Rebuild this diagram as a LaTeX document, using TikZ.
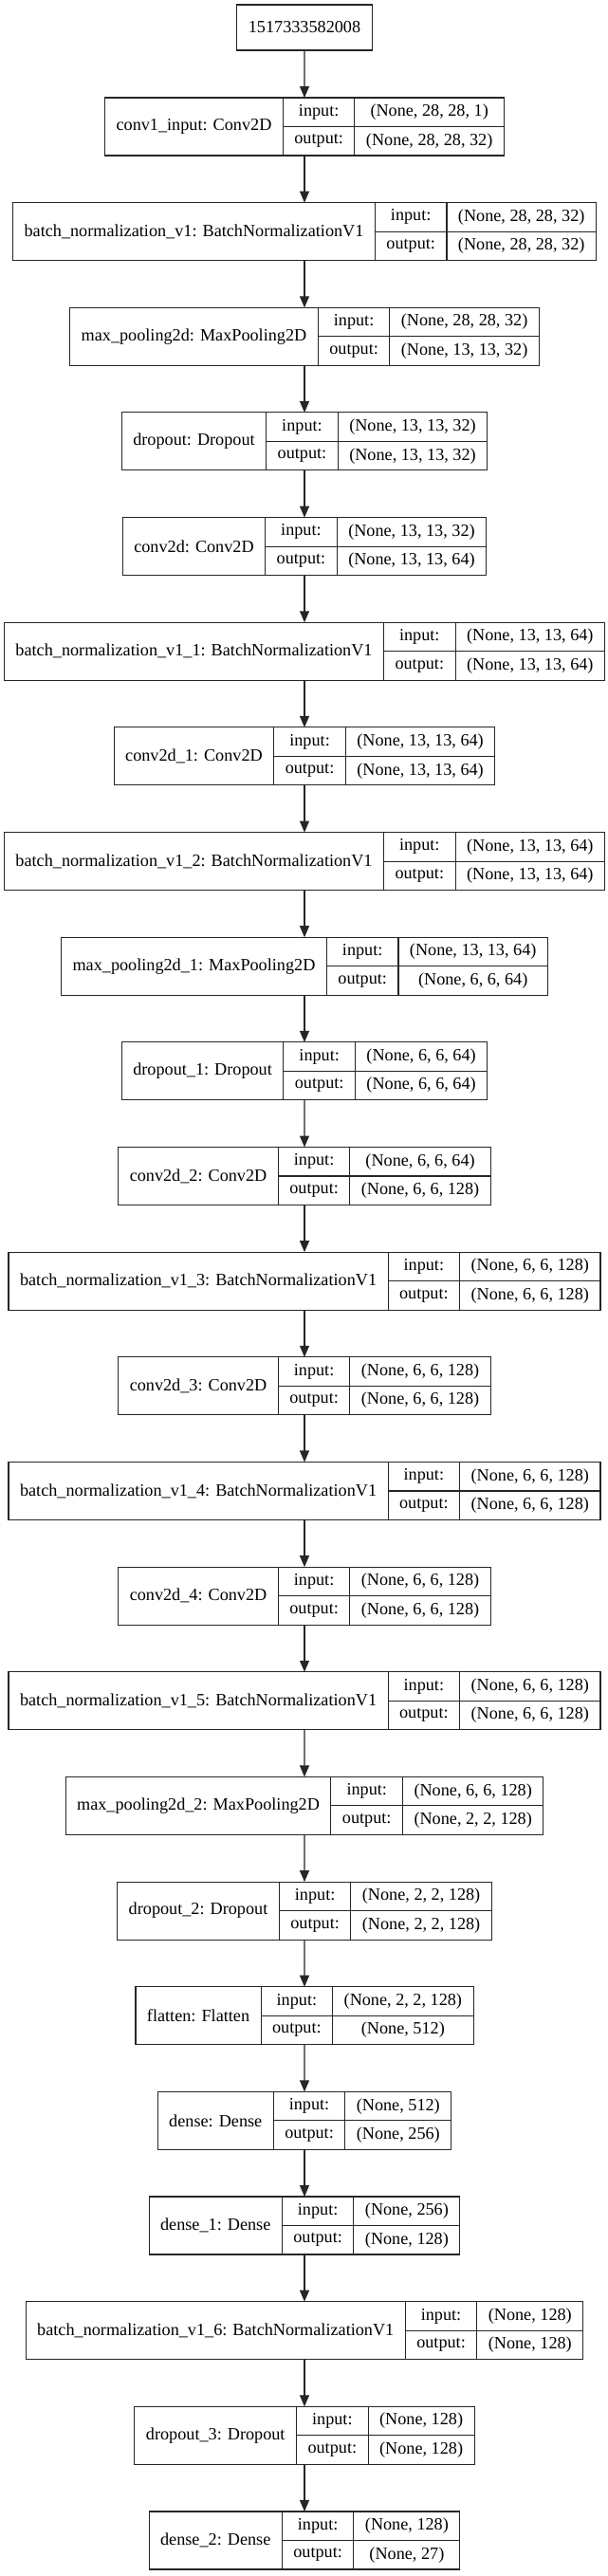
\documentclass[tikz,border=0pt]{standalone}
\usepackage{fontspec}
\setmainfont{Liberation Serif}
\usepackage{tikz}
\usetikzlibrary{positioning}
\usetikzlibrary{arrows.meta}
\usetikzlibrary{fit,calc}

\newlength\namewd
\newlength\labwd
\newlength\valwd
\newlength\tmpwd
\newlength\totwd
\newlength\rowht
\setlength\rowht{22.875pt}
\def\xmid{240.75pt}
\newcommand\cellfont{\fontsize{13.65pt}{16pt}\selectfont}
% text width measured outside the picture's null font
\newcommand\textwd[2]{\settowidth#1{\pgfinterruptpicture\cellfont #2\endpgfinterruptpicture}}

% one keras record: name | input:/output: | shapes, centred on \xmid
\newcommand\layerbox[5]{%
  \textwd\namewd{#2}%
  \textwd\labwd{output:}%
  \textwd\valwd{#3}%
  \textwd\tmpwd{#4}%
  \ifdim\tmpwd>\valwd \setlength\valwd{\tmpwd}\fi
  \addtolength\namewd{18pt}%
  \addtolength\labwd{18pt}%
  \addtolength\valwd{18pt}%
  \setlength\totwd{\dimexpr\namewd+\labwd+\valwd\relax}%
  \node[cell, minimum width=\namewd, minimum height=2*\rowht, anchor=north west]
    (#1-n) at ({\xmid-0.5*\totwd}, {-#5*1pt}) {#2};
  \node[cell, minimum width=\labwd, anchor=north west] (#1-i) at (#1-n.north east) {input:};
  \node[cell, minimum width=\labwd, anchor=north west] (#1-o) at (#1-i.south west) {output:};
  \node[cell, minimum width=\valwd, anchor=north west] (#1-vi) at (#1-i.north east) {#3};
  \node[cell, minimum width=\valwd, anchor=north west] (#1-vo) at (#1-vi.south west) {#4};
  \node[fit=(#1-n)(#1-vo), inner sep=0pt, outer sep=0pt] (#1) {};
}

\begin{document}
\begin{tikzpicture}
	\useasboundingbox (0,0) rectangle (480pt,-2037pt);

	\begin{scope}[every node/.style={outer sep=0pt},
	              cell/.style={draw=black!85, line width=0.8pt, inner sep=0pt,
	                           minimum height=\rowht, font=\cellfont, text=black}]
	    \node[cell, minimum height=36pt, inner xsep=9pt, anchor=north] (L0) at (\xmid,-3.75pt) {1517333582008};
	    \foreach \lab/\ishape/\oshape [count=\i] in {
	        {conv1\_input: Conv2D}/{(None, 28, 28, 1)}/{(None, 28, 28, 32)},
	        {batch\_normalization\_v1: BatchNormalizationV1}/{(None, 28, 28, 32)}/{(None, 28, 28, 32)},
	        {max\_pooling2d: MaxPooling2D}/{(None, 28, 28, 32)}/{(None, 13, 13, 32)},
	        {dropout: Dropout}/{(None, 13, 13, 32)}/{(None, 13, 13, 32)},
	        {conv2d: Conv2D}/{(None, 13, 13, 32)}/{(None, 13, 13, 64)},
	        {batch\_normalization\_v1\_1: BatchNormalizationV1}/{(None, 13, 13, 64)}/{(None, 13, 13, 64)},
	        {conv2d\_1: Conv2D}/{(None, 13, 13, 64)}/{(None, 13, 13, 64)},
	        {batch\_normalization\_v1\_2: BatchNormalizationV1}/{(None, 13, 13, 64)}/{(None, 13, 13, 64)},
	        {max\_pooling2d\_1: MaxPooling2D}/{(None, 13, 13, 64)}/{(None, 6, 6, 64)},
	        {dropout\_1: Dropout}/{(None, 6, 6, 64)}/{(None, 6, 6, 64)},
	        {conv2d\_2: Conv2D}/{(None, 6, 6, 64)}/{(None, 6, 6, 128)},
	        {batch\_normalization\_v1\_3: BatchNormalizationV1}/{(None, 6, 6, 128)}/{(None, 6, 6, 128)},
	        {conv2d\_3: Conv2D}/{(None, 6, 6, 128)}/{(None, 6, 6, 128)},
	        {batch\_normalization\_v1\_4: BatchNormalizationV1}/{(None, 6, 6, 128)}/{(None, 6, 6, 128)},
	        {conv2d\_4: Conv2D}/{(None, 6, 6, 128)}/{(None, 6, 6, 128)},
	        {batch\_normalization\_v1\_5: BatchNormalizationV1}/{(None, 6, 6, 128)}/{(None, 6, 6, 128)},
	        {max\_pooling2d\_2: MaxPooling2D}/{(None, 6, 6, 128)}/{(None, 2, 2, 128)},
	        {dropout\_2: Dropout}/{(None, 2, 2, 128)}/{(None, 2, 2, 128)},
	        {flatten: Flatten}/{(None, 2, 2, 128)}/{(None, 512)},
	        {dense: Dense}/{(None, 512)}/{(None, 256)},
	        {dense\_1: Dense}/{(None, 256)}/{(None, 128)},
	        {batch\_normalization\_v1\_6: BatchNormalizationV1}/{(None, 128)}/{(None, 128)},
	        {dropout\_3: Dropout}/{(None, 128)}/{(None, 128)},
	        {dense\_2: Dense}/{(None, 128)}/{(None, 27)}}
	    {
	        \pgfmathsetmacro\ytop{77.25+(\i-1)*82.9875}
	        \layerbox{L\i}{\lab}{\ishape}{\oshape}{\ytop}
	    }
	\end{scope}

	\begin{scope}[>={Triangle[length=9pt,width=7.5pt]},
	              every edge/.style={draw=black!85, line width=0.8pt}]
	    \foreach \i [evaluate=\i as \j using int(\i-1)] in {1,...,24}
	        \path [->] (L\j) edge (L\i);
	\end{scope}
\end{tikzpicture}
\end{document}
